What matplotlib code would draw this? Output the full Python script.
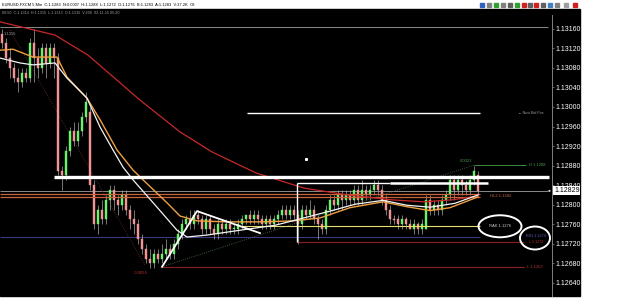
import matplotlib
matplotlib.use("Agg")
import matplotlib.pyplot as plt
from matplotlib.patches import Rectangle, Ellipse

plt.rcParams["font.family"] = ["Liberation Sans", "DejaVu Sans"]

W, H = 625, 307

# EURUSD 5 min candles
opens = [1.1315, 1.1313, 1.1310, 1.1308, 1.1306, 1.1305, 1.1307, 1.1306, 1.1313, 1.1310,
         1.1308, 1.1312, 1.1309, 1.1312, 1.1310, 1.1287, 1.1286, 1.1291, 1.1295, 1.1293,
         1.1295, 1.1298, 1.1299, 1.1284, 1.1276, 1.1279, 1.1277, 1.1281, 1.1283, 1.1281,
         1.1280, 1.1282, 1.1279, 1.1277, 1.1276, 1.1273, 1.1271, 1.1269, 1.1268, 1.1270,
         1.1269, 1.1270, 1.1271, 1.1270, 1.1272, 1.1274, 1.1276, 1.1277, 1.1276, 1.1278,
         1.1277, 1.1275, 1.1277, 1.1275, 1.1274, 1.1276, 1.1275, 1.1276, 1.1275, 1.1275,
         1.1276, 1.1277, 1.1278, 1.1277, 1.1278, 1.1277, 1.1276, 1.1277, 1.1276, 1.1277,
         1.1278, 1.1279, 1.1278, 1.1279, 1.1278, 1.1276, 1.1279, 1.1278, 1.1279, 1.1277,
         1.1276, 1.1275, 1.1279, 1.1281, 1.1280, 1.1282, 1.1281, 1.1282, 1.1281, 1.1283,
         1.1281, 1.1283, 1.1282, 1.1283, 1.1284, 1.1283, 1.1281, 1.1279, 1.1277, 1.1277,
         1.1276, 1.1277, 1.1276, 1.1275, 1.1276, 1.1275, 1.1275, 1.1281, 1.1279, 1.1280,
         1.1279, 1.1281, 1.1282, 1.1285, 1.1283, 1.1285, 1.1284, 1.1283, 1.1285, 1.1286]
highs = [1.1316, 1.1314, 1.1312, 1.1309, 1.1308, 1.1308, 1.1308, 1.1314, 1.1316, 1.1312,
         1.1313, 1.1313, 1.1313, 1.1313, 1.1311, 1.1288, 1.1292, 1.1296, 1.1297, 1.1297,
         1.1299, 1.1303, 1.1300, 1.1285, 1.1280, 1.1281, 1.1282, 1.1284, 1.1284, 1.1282,
         1.1283, 1.1283, 1.1280, 1.1279, 1.1277, 1.1274, 1.1272, 1.1271, 1.1271, 1.1271,
         1.1272, 1.1273, 1.1272, 1.1273, 1.1275, 1.1277, 1.1278, 1.1279, 1.1279, 1.1279,
         1.1278, 1.1278, 1.1278, 1.1276, 1.1277, 1.1277, 1.1277, 1.1277, 1.1276, 1.1277,
         1.1278, 1.1278, 1.1279, 1.1279, 1.1279, 1.1278, 1.1278, 1.1278, 1.1278, 1.1279,
         1.1280, 1.1280, 1.1280, 1.1280, 1.1279, 1.1280, 1.1280, 1.1281, 1.1280, 1.1278,
         1.1277, 1.1280, 1.1282, 1.1282, 1.1283, 1.1283, 1.1283, 1.1283, 1.1284, 1.1284,
         1.1285, 1.1284, 1.1284, 1.1285, 1.1285, 1.1284, 1.1282, 1.1280, 1.1278, 1.1278,
         1.1278, 1.12775, 1.1277, 1.1277, 1.12765, 1.1277, 1.1282, 1.1282, 1.1281, 1.1281,
         1.1282, 1.1283, 1.1286, 1.1286, 1.1286, 1.1286, 1.1285, 1.1286, 1.1288, 1.1287]
lows = [1.1312, 1.1309, 1.1306, 1.1305, 1.1303, 1.1304, 1.1305, 1.1305, 1.1305, 1.1306,
        1.1307, 1.1306, 1.1308, 1.1306, 1.1286, 1.1283, 1.1285, 1.1290, 1.1292, 1.1292,
        1.1294, 1.1297, 1.1283, 1.1275, 1.1274, 1.1276, 1.1276, 1.1279, 1.1279, 1.1278,
        1.1279, 1.1278, 1.1275, 1.1274, 1.1272, 1.1270, 1.1268, 1.1267, 1.1267, 1.1268,
        1.1268, 1.1269, 1.1269, 1.1269, 1.1271, 1.1273, 1.1275, 1.1275, 1.1275, 1.1276,
        1.1274, 1.1274, 1.1274, 1.1273, 1.1273, 1.1274, 1.1274, 1.1274, 1.1274, 1.1274,
        1.1275, 1.1276, 1.1276, 1.1276, 1.1276, 1.1275, 1.1275, 1.1275, 1.1275, 1.1276,
        1.1277, 1.1277, 1.1277, 1.1277, 1.1272, 1.1275, 1.1277, 1.1277, 1.1276, 1.1273,
        1.1274, 1.1274, 1.1278, 1.1279, 1.1279, 1.1279, 1.1280, 1.1280, 1.1280, 1.1280,
        1.1280, 1.1281, 1.1281, 1.1282, 1.1282, 1.1280, 1.1278, 1.1276, 1.1276, 1.1275,
        1.1275, 1.1275, 1.1275, 1.1274, 1.1274, 1.1274, 1.1275, 1.1278, 1.1278, 1.1278,
        1.1278, 1.1280, 1.1281, 1.1281, 1.1282, 1.1282, 1.1282, 1.1282, 1.1284, 1.1282]
closes = [1.1313, 1.1310, 1.1308, 1.1306, 1.1305, 1.1307, 1.1306, 1.1313, 1.1310, 1.1308,
          1.1312, 1.1309, 1.1312, 1.1310, 1.1287, 1.1286, 1.1291, 1.1295, 1.1293, 1.1295,
          1.1298, 1.1301, 1.1284, 1.1276, 1.1279, 1.1277, 1.1281, 1.1283, 1.1281, 1.1280,
          1.1282, 1.1279, 1.1277, 1.1276, 1.1273, 1.1271, 1.1269, 1.1268, 1.1270, 1.1269,
          1.1270, 1.1271, 1.1270, 1.1272, 1.1274, 1.1276, 1.1277, 1.1276, 1.1278, 1.1277,
          1.1275, 1.1277, 1.1275, 1.1274, 1.1276, 1.1275, 1.1276, 1.1275, 1.12752, 1.1276,
          1.1277, 1.1278, 1.1277, 1.1278, 1.1277, 1.1276, 1.1277, 1.1276, 1.1277, 1.1278,
          1.1279, 1.1278, 1.1279, 1.1278, 1.1276, 1.1279, 1.1278, 1.1279, 1.1277, 1.1276,
          1.1275, 1.1279, 1.1281, 1.1280, 1.1282, 1.1281, 1.1282, 1.1281, 1.1283, 1.1281,
          1.1283, 1.1282, 1.1283, 1.1284, 1.1283, 1.1281, 1.1279, 1.1277, 1.12768, 1.1276,
          1.1277, 1.1276, 1.1275, 1.1276, 1.1275, 1.1276, 1.1281, 1.1279, 1.1280, 1.1279,
          1.1281, 1.1282, 1.1285, 1.1283, 1.1285, 1.1284, 1.1283, 1.1285, 1.1287, 1.12829]

# moving averages, read at a few candle positions
ma_red_x = [-0.5, 13.25, 21.5, 34.5, 44.5, 52.5, 63.5, 75.5, 86.5, 97.5, 105.5, 112.5, 119]
ma_red_y = [1.13174, 1.13147, 1.13106, 1.13014, 1.12949, 1.12908, 1.12865, 1.12834,
            1.12820, 1.12810, 1.12806, 1.12810, 1.12818]
ma_orange_x = [-0.5, 2.75, 7.75, 13.75, 16.25, 21.25, 24.5, 28.75, 32.75, 35.25, 41.25, 44.5,
               48.75, 56.25, 64.5, 72.75, 79.5, 87, 95.25, 101.25, 107, 112, 119]
ma_orange_y = [1.13116, 1.13118, 1.13102, 1.13102, 1.13061, 1.13018, 1.12974, 1.12912,
               1.12871, 1.12851, 1.12804, 1.12777, 1.12767, 1.12765, 1.12765, 1.12767,
               1.12773, 1.12794, 1.12806, 1.12796, 1.12788, 1.12794, 1.12816]
ma_white_x = [-0.5, 4.5, 7.75, 13.25, 16.25, 21.25, 24.5, 27.75, 30.25, 32.75, 38.75, 43.75,
              46.25, 51.25, 61.25, 68.25, 74.5, 82, 88.25, 95.25, 101.25, 107, 113.25, 119]
ma_white_y = [1.13100, 1.13090, 1.13086, 1.13090, 1.13059, 1.13018, 1.12959, 1.12912,
              1.12877, 1.12851, 1.12795, 1.12748, 1.12734, 1.12738, 1.12750, 1.12758,
              1.12771, 1.12787, 1.12801, 1.12809, 1.12799, 1.12795, 1.12803, 1.12820]

# price levels drawn on the chart
lvl_top = 1.13163
lvl_res = 1.12857
lvl_box = 1.12844
lvl_upper = 1.12988
lvl_cur = 1.12829
lvl_hl2 = [1.12821, 1.12816]
lvl_rak = 1.12756
lvl_rs1 = 1.12735
lvl_l1 = 1.12723
lvl_low = 1.12673
lvl_high = 1.12881
peak_price = 1.12787
tri_end_price = 1.12742

yticks = [1.13160, 1.13120, 1.13080, 1.13040, 1.13000, 1.12960, 1.12920,
          1.12880, 1.12840, 1.12800, 1.12760, 1.12720, 1.12680, 1.12640]


def fx(px):
    return px / W


def fy(py):
    return 1 - py / H


def ix(px):
    # pixel column -> candle index
    return (px - 2) / 4.0


fig = plt.figure(figsize=(6.25, 3.07), dpi=100)
fig.patch.set_facecolor("white")
fig.patches.append(Rectangle((0, fy(296)), fx(580), fy(9) - fy(296),
                             transform=fig.transFigure, color="black", zorder=-5))

ax = fig.add_axes([0, fy(296), fx(552), fy(9) - fy(296)])
ax.set_zorder(2)
ax.set_facecolor("black")
ax.set_xlim(ix(0), ix(552))
ax.set_ylim(1.126134, 1.132003)
for s in ax.spines.values():
    s.set_visible(False)
ax.set_xticks([])
ax.yaxis.tick_right()
ax.set_yticks(yticks)
ax.set_yticklabels(["%.5f" % v for v in yticks])
ax.tick_params(axis="y", colors="#909090", labelcolor="white", labelsize=5,
               length=1.5, width=0.5, pad=1)

# axis line
fig.add_artist(plt.Line2D([fx(552), fx(552)], [fy(15), fy(296)],
                          color="#808080", lw=0.7, transform=fig.transFigure, zorder=3))

# candles
idx = list(range(len(closes)))
bull = "#6cf26c"
bear = "#f29494"
colors = []
bottoms = []
heights = []
for i in idx:
    if closes[i] >= opens[i]:
        colors.append(bull)
    else:
        colors.append(bear)
    bottoms.append(min(opens[i], closes[i]))
    heights.append(max(abs(closes[i] - opens[i]), 0.000015))
ax.vlines(idx, lows, highs, color="#a8a8a8", lw=0.5, zorder=2)
ax.bar(idx, heights, bottom=bottoms, width=0.72, color=colors,
       edgecolor=colors, linewidth=0.3, zorder=3)

# horizontal levels
ax.hlines(lvl_top, ix(0), ix(548), color="#8a8a8a", lw=0.7, zorder=1)
ax.hlines(lvl_cur, ix(0), ix(548), color="#8a8a8a", lw=0.7, zorder=1)
ax.hlines(lvl_hl2, ix(0), ix(480), color="#c8643c", lw=0.9, zorder=4)
ax.hlines(lvl_rak, ix(240), ix(480), color="#e6e070", lw=0.8, zorder=4)
ax.hlines(lvl_rs1, ix(0), ix(480), color="#3a3a80", lw=0.8, zorder=1)
ax.hlines(lvl_l1, ix(297), ix(524), color="#8a2020", lw=0.8, zorder=1)
ax.hlines(lvl_low, ix(162), ix(524), color="#8a2020", lw=0.8, zorder=1)
ax.hlines(lvl_high, ix(474), ix(526), color="#3c8c3c", lw=0.7, zorder=1)

# moving averages
ax.plot(ma_red_x, ma_red_y, color="#c82828", lw=0.9, zorder=5)
ax.plot(ma_orange_x, ma_orange_y, color="#f0a040", lw=1.0, zorder=5)
ax.plot(ma_white_x, ma_white_y, color="#f4f4f4", lw=0.9, zorder=5)

# dotted measuring lines
ax.plot([ix(10), ix(145)], [1.13157, 1.12676], color="#6a3030", lw=0.6, ls=":", zorder=1)
ax.plot([ix(162), ix(474)], [lvl_low, lvl_high], color="#4a7a4a", lw=0.6, ls=":", zorder=1)

# hand drawn white lines
ax.hlines(lvl_res, ix(54), ix(549), color="white", lw=2.4, zorder=7)
ax.hlines(lvl_box, ix(297), ix(390), color="white", lw=1.0, zorder=7)
ax.hlines(lvl_box, ix(390), ix(488), color="white", lw=1.8, zorder=7)
ax.vlines(ix(297), lvl_l1, lvl_box, color="white", lw=1.0, zorder=7)
ax.hlines(lvl_upper, ix(247), ix(480), color="white", lw=1.0, zorder=7)
ax.plot([ix(162), ix(197), ix(260)], [lvl_low, peak_price, tri_end_price],
        color="white", lw=1.3, zorder=7)
ax.plot([ix(306)], [1.12893], marker="s", ms=1.2, color="white", zorder=7)

# ellipses
ax.add_patch(Ellipse((ix(500), lvl_rak), 10.75, 0.00045, fill=False,
                     edgecolor="white", lw=1.4, zorder=8))
ax.add_patch(Ellipse((ix(535), 1.12732), 7.5, 0.00047, fill=False,
                     edgecolor="white", lw=1.4, zorder=8, clip_on=False))

# labels on the chart
small = 3.0
ax.text(ix(4), 1.13150, "1.1316", color="#9a9a9a", fontsize=small, va="center")
ax.text(ix(518), lvl_upper, "\u2190 Next Bid Pos", color="#9a9a9a", fontsize=2.6, va="center")
ax.text(ix(460), 1.12890, "0.0021", color="#4a9a4a", fontsize=small, va="center")
ax.text(ix(529), lvl_high, "H 1.1288", color="#4a9a4a", fontsize=small, va="center")
ax.text(ix(490), 1.12818, "HL2 1.1282", color="#c86440", fontsize=small, va="center")
ax.text(ix(500), lvl_rak, "RAK 1.1276", color="#d0d0d0", fontsize=small, va="center", ha="center")
ax.text(ix(536), 1.12737, "RS1 1.1274", color="#6060c0", fontsize=2.7, va="center", ha="center")
ax.text(ix(536), 1.12723, "L 1.1272", color="#c03030", fontsize=2.7, va="center", ha="center")
ax.text(ix(535), lvl_low, "L 1.1267", color="#c03030", fontsize=small, va="center", ha="center")
ax.text(ix(141), 1.12660, "-0.0054", color="#c03030", fontsize=small, va="center", ha="center")

# current price tag
fig.text(fx(554), fy(190.6), "1.12829", color="black", fontsize=5, va="center", zorder=5,
         bbox=dict(facecolor="white", edgecolor="none", pad=0.6))
fig.text(fx(546), fy(190.6), "\u25c4", color="white", fontsize=3, va="center", zorder=5)

# window title and info line
fig.text(fx(2), fy(4.5), "EURUSD,FXCM 5 Min  C:1.1283  N:0.0007  H:1.1288  L:1.1272  O:1.1276  "
         "B:1.1283  A:1.1283  V:37.2K  OI:", color="black", fontsize=2.9, va="center")
fig.text(fx(2), fy(12.5), "06:50  C:1.1314  H:1.1315  L:1.1313  O:1.1315  V:200  02-11-15 05:20",
         color="#a0a0a0", fontsize=2.7, va="center", zorder=5)

# toolbar icons
icon_x = [482, 489, 496, 503, 510, 517, 524, 530, 536, 543, 550, 557, 566, 575]
icon_c = ["#3060c0", "#808080", "#30a030", "#808080", "#606060", "#30a030", "#d02020",
          "#606060", "#d02020", "#606060", "#4080c0", "#808080", "#a0a0a0", "#d02020"]
for x, c in zip(icon_x, icon_c):
    fig.add_artist(plt.Line2D([fx(x)], [fy(5)], marker="s", ms=2.2, color=c,
                              transform=fig.transFigure))

fig.savefig("out.png", dpi=100, facecolor=fig.get_facecolor())
